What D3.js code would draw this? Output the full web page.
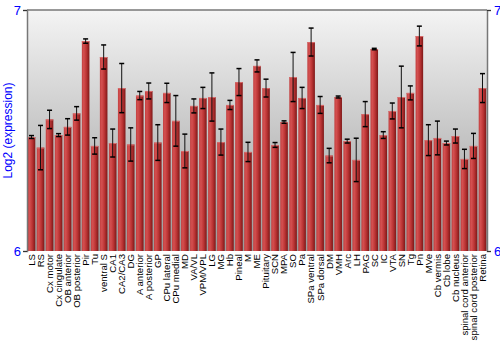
<!DOCTYPE html>
<html>
<head>
<meta charset="utf-8">
<script src="https://cdn.jsdelivr.net/npm/d3@7"></script>
<style>
  body { margin: 0; background: #fff; }
  text { font-family: "Liberation Sans", Arial, sans-serif; }
</style>
</head>
<body>
<svg width="500" height="350"></svg>
<script>
const width = 500;
const height = 350;

// tissue names along the x axis
const tissues = ["LS", "RS", "Cx motor", "Cx cingulate", "OB anterior", "OB posterior", "Pir", "Tu",
  "ventral S", "CA1", "CA2/CA3", "DG", "A anterior", "A posterior", "GP", "CPu lateral", "CPu medial",
  "MD", "VA/VL", "VPM/VPL", "LG", "MG", "Hb", "Pineal", "M", "ME", "Pituitary", "SCN", "MPA", "SO",
  "Pa", "SPa ventral", "SPa dorsal", "DM", "VMH", "Arc", "LH", "PAG", "SC", "IC", "VTA", "SN", "Tg",
  "Pn", "MVe", "Cb vermis", "Cb lobe", "Cb nucleus", "spinal cord anterior", "spinal cord posterior", "Retina"];

// mean log2 expression
const means = [6.473, 6.429, 6.546, 6.481, 6.515, 6.571, 6.871, 6.436,
  6.805, 6.448, 6.676, 6.442, 6.645, 6.664, 6.450, 6.656, 6.540,
  6.415, 6.602, 6.635, 6.639, 6.452, 6.606, 6.701, 6.411, 6.768, 6.676, 6.440, 6.535, 6.722,
  6.635, 6.867, 6.606, 6.396, 6.639, 6.456, 6.378, 6.568, 6.838, 6.481, 6.581, 6.639, 6.656,
  6.892, 6.460, 6.469, 6.448, 6.477, 6.382, 6.436, 6.676];

// error (+/-)
const errs = [0.006, 0.092, 0.038, 0.006, 0.034, 0.028, 0.009, 0.034,
  0.050, 0.058, 0.102, 0.069, 0.017, 0.033, 0.074, 0.040, 0.105,
  0.070, 0.029, 0.044, 0.100, 0.054, 0.019, 0.056, 0.040, 0.025, 0.037, 0.010, 0.005, 0.102,
  0.044, 0.058, 0.035, 0.030, 0.004, 0.008, 0.090, 0.052, 0.003, 0.014, 0.033, 0.128, 0.029,
  0.041, 0.064, 0.070, 0.008, 0.029, 0.040, 0.052, 0.060];

const yTicks = [6, 7];

const plotLeft = 27, plotRight = 487, plotTop = 10, plotBottom = 251;

const svg = d3.select('svg');
const defs = svg.append("defs");

const bg = defs.append("linearGradient").attr("id", "bg")
  .attr("x1", 0).attr("y1", 0).attr("x2", 0).attr("y2", 1);
bg.append("stop").attr("offset", "0%").attr("stop-color", "#f4f4f4");
bg.append("stop").attr("offset", "100%").attr("stop-color", "#9a9a9a");

const barGrad = defs.append("linearGradient").attr("id", "bar")
  .attr("x1", 0).attr("y1", 0).attr("x2", 1).attr("y2", 0);
barGrad.append("stop").attr("offset", "0%").attr("stop-color", "#c24040");
barGrad.append("stop").attr("offset", "25%").attr("stop-color", "#d45050");
barGrad.append("stop").attr("offset", "60%").attr("stop-color", "#bb3434");
barGrad.append("stop").attr("offset", "100%").attr("stop-color", "#7e1818");

const x = d3.scaleBand()
  .domain(tissues)
  .range([plotLeft, plotRight])
  .paddingInner(0.16)
  .paddingOuter(0.08);

const y = d3.scaleLinear()
  .domain([6, 7])
  .range([plotBottom, plotTop]);

// plot background
svg.append("rect")
  .attr("x", plotLeft).attr("y", plotTop)
  .attr("width", plotRight - plotLeft).attr("height", plotBottom - plotTop)
  .style("fill", "url(#bg)");

// bars
svg.selectAll("rect.bar")
  .data(tissues)
  .enter().append("rect")
  .attr("class", "bar")
  .attr("x", d => x(d))
  .attr("y", (d, i) => y(means[i]))
  .attr("width", x.bandwidth())
  .attr("height", (d, i) => y(6) - y(means[i]))
  .style("fill", "url(#bar)");

// light top edge on each bar
svg.selectAll("rect.cap")
  .data(tissues)
  .enter().append("rect")
  .attr("class", "cap")
  .attr("x", d => x(d))
  .attr("y", (d, i) => y(means[i]))
  .attr("width", x.bandwidth())
  .attr("height", 1)
  .style("fill", "#d86a6a");

// error bars
const eb = svg.append("g");
tissues.forEach((t, i) => {
  const cx = x(t) + x.bandwidth() / 2;
  const y1 = y(means[i] + errs[i]);
  const y2 = y(means[i] - errs[i]);
  eb.append("line")
    .attr("x1", cx).attr("x2", cx).attr("y1", y1).attr("y2", y2)
    .style("stroke", "#111").style("stroke-width", 1);
  [y1, y2].forEach(yy => {
    eb.append("line")
      .attr("x1", cx - 2.5).attr("x2", cx + 2.5).attr("y1", yy).attr("y2", yy)
      .style("stroke", "#000").style("stroke-width", 1.5);
  });
});

// frame line on top
svg.append("line")
  .attr("x1", plotLeft).attr("x2", plotRight).attr("y1", plotTop).attr("y2", plotTop)
  .style("stroke", "#777").style("stroke-width", 1.5);

const yAxisL = svg.append("g")
  .attr("transform", `translate(${plotLeft},0)`)
  .call(d3.axisLeft(y).tickValues(yTicks).tickSize(4).tickFormat(d3.format("d")));
const yAxisR = svg.append("g")
  .attr("transform", `translate(${plotRight},0)`)
  .call(d3.axisRight(y).tickValues(yTicks).tickSize(4).tickFormat(d3.format("d")));

[yAxisL, yAxisR].forEach(g => {
  g.select(".domain").style("stroke", "#777").style("stroke-width", 1.5);
  g.selectAll(".tick line").style("stroke", "#333");
  g.selectAll(".tick text")
    .style("font-size", "13px")
    .style("fill", "#0000ff")
    .style("font-family", "'Liberation Sans', Arial, sans-serif");
});
yAxisL.selectAll(".tick text").attr("x", -6);
yAxisR.selectAll(".tick text").attr("x", 7);

// y label
svg.append("text")
  .attr("transform", `translate(12,${(plotTop + plotBottom) / 2}) rotate(-90)`)
  .attr("text-anchor", "middle")
  .style("font-size", "12px")
  .style("fill", "#0000ff")
  .text("Log2 (expression)");

// x labels
svg.selectAll("text.xl")
  .data(tissues)
  .enter().append("text")
  .attr("class", "xl")
  .attr("transform", d => `translate(${x(d) + x.bandwidth() / 2},${plotBottom + 3}) rotate(-90)`)
  .attr("text-anchor", "end")
  .attr("dy", "0.35em")
  .style("font-size", "9.6px")
  .style("fill", "#000")
  .text(d => d);
</script>
</body>
</html>
